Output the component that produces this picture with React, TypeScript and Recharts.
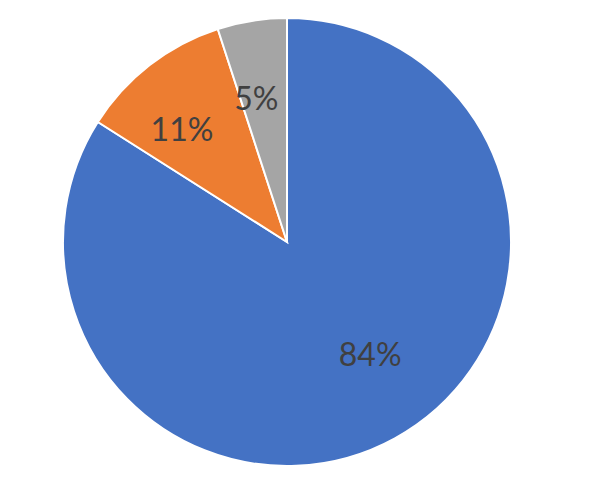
import { PieChart, Pie, Cell } from 'recharts';

const categories = ['A', 'B', 'C'];
const shares = [84, 11, 5];
const colors = ['#4472C4', '#ED7D31', '#A5A5A5'];

const data = categories.map((name, i) => ({ name, value: shares[i] }));

const RAD = Math.PI / 180;
// per-slice label tweaks (angle shift in degrees, radius as fraction of outer)
const labelShift = [8, 5, 3];
const labelRadius = [0.62, 0.69, 0.66];

function renderLabel(props: any) {
  const { cx, cy, midAngle, outerRadius, value, index } = props;
  const angle = midAngle + labelShift[index];
  const r = outerRadius * labelRadius[index];
  const x = cx + r * Math.cos(-angle * RAD);
  const y = cy + r * Math.sin(-angle * RAD);
  return (
    <text
      x={x}
      y={y}
      fill="#404040"
      fontSize={32}
      fontFamily="Lato, 'Noto Sans', sans-serif"
      textAnchor="middle"
      dominantBaseline="central"
    >
      {`${value}%`}
    </text>
  );
}

export default function App() {
  return (
    <div style={{ width: 604, height: 477, background: '#fff' }}>
      <PieChart width={604} height={477}>
        <Pie
          data={data}
          dataKey="value"
          cx={274}
          cy={229}
          outerRadius={224}
          startAngle={90}
          endAngle={-270}
          stroke="#ffffff"
          strokeWidth={2}
          label={renderLabel}
          labelLine={false}
          isAnimationActive={false}
        >
          {data.map((d, i) => (
            <Cell key={d.name} fill={colors[i]} />
          ))}
        </Pie>
      </PieChart>
    </div>
  );
}
